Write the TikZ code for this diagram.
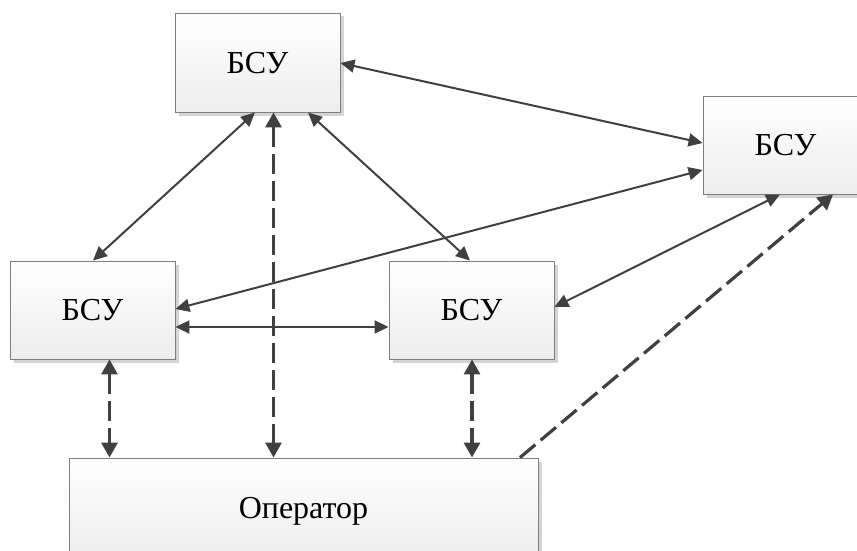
\documentclass[tikz,border=0pt]{standalone}
\usepackage{fontspec}
\setmainfont{Liberation Serif}
\newfontfamily\bsfont{Liberation Serif}
\usetikzlibrary{arrows.meta,shadows,calc}
\definecolor{lnc}{HTML}{404040}
\definecolor{bdc}{HTML}{7F7F7F}
\definecolor{btm}{HTML}{EDEDED}
\definecolor{shc}{HTML}{D4D4D4}
\tikzset{
  blk/.style={draw=bdc, line width=0.9pt, top color=white, bottom color=btm,
    drop shadow={shadow xshift=3.5pt, shadow yshift=-3.5pt, opacity=1, fill=shc},
    font=\bsfont\fontsize{32}{38}\selectfont, text height=21.5pt, text depth=0pt,
    inner sep=0pt, anchor=center},
  link/.style={draw=lnc, line width=2pt, {Triangle[length=14pt,width=13pt]}-{Triangle[length=14pt,width=13pt]}},
  dlink/.style={draw=lnc, line width=3.2pt, dash pattern=on 20pt off 7pt, {Triangle[length=15pt,width=16pt]}-{Triangle[length=15pt,width=16pt]}},
  dlinkone/.style={draw=lnc, line width=3.2pt, dash pattern=on 20pt off 7pt, -{Triangle[length=15pt,width=16pt]}}
}
\begin{document}
\begin{tikzpicture}[x=1pt,y=-1pt]
\useasboundingbox (0,0) rectangle (857,551);
\clip (0,0) rectangle (857,551);
\node[blk, minimum width=165pt, minimum height=99pt] (t) at (257.5,62.5) {БСУ};
\node[blk, minimum width=165pt, minimum height=98pt] (r) at (785.5,145) {БСУ};
\node[blk, minimum width=165pt, minimum height=98pt] (l) at (92.5,310) {БСУ};
\node[blk, minimum width=165pt, minimum height=98pt] (m) at (471.5,310) {БСУ};
\node[blk, minimum width=469pt, minimum height=100pt] (o) at (303.5,508) {Оператор};
% solid links
\draw[link] ([shift={(0,0.5)}]t.east) -- ([shift={(0,-2)}]r.west);
\draw[link] ([shift={(-2.5,0)}]t.south) -- ([shift={(0.5,0)}]l.north);
\draw[link] ([shift={(50.5,0)}]t.south) -- ([shift={(-1.5,0)}]m.north);
\draw[link] ([shift={(0,25)}]r.west) -- ([shift={(0,-1)}]l.east);
\draw[link] ([shift={(-5.5,0)}]r.south) -- ([shift={(0,-3)}]m.east);
\draw[link] ([shift={(0,17)}]l.east) -- ([shift={(0,17)}]m.west);
% dashed links
\draw[dlink] ([shift={(16,0)}]t.south) -- ([shift={(-30,0)}]o.north);
\draw[dlink] ([shift={(17,0)}]l.south) -- ([shift={(-194,0)}]o.north);
\draw[dlink] ([shift={(0.5,0)}]m.south) -- ([shift={(168.5,0)}]o.north);
\draw[dlinkone] ([shift={(216.5,0)}]o.north) -- ([shift={(47.5,0)}]r.south);
\end{tikzpicture}
\end{document}
